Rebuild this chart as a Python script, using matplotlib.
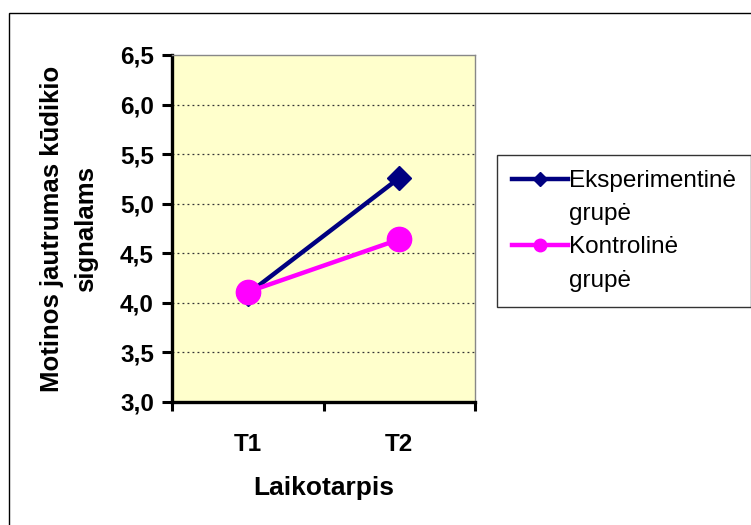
import matplotlib
matplotlib.use("Agg")
import matplotlib.pyplot as plt
from matplotlib.lines import Line2D
from matplotlib.patches import Rectangle

categories = ["T1", "T2"]
series_names = ["Eksperimentinė", "Kontrolinė"]
legend_second_line = "grupė"
eksperimentine = [4.09, 5.26]
kontroline = [4.11, 4.64]
y_ticks = [3.0, 3.5, 4.0, 4.5, 5.0, 5.5, 6.0, 6.5]
y_tick_labels = ["3,0", "3,5", "4,0", "4,5", "5,0", "5,5", "6,0", "6,5"]
x_label = "Laikotarpis"
y_label = "Motinos jautrumas kūdikio\nsignalams"

plt.rcParams['font.family'] = ['Liberation Sans', 'DejaVu Sans']

W, H = 751, 525
fig = plt.figure(figsize=(W / 100, H / 100), dpi=100)
fig.patch.set_facecolor("white")

# outer border (extends beyond right/bottom edges)
fig.patches.append(Rectangle((9 / W, -0.05), 1.2, 1 - 13 / H + 0.05,
                             transform=fig.transFigure, fill=False,
                             edgecolor="black", linewidth=1.0))

left, right, top, bottom = 172, 475, 55, 402
ax = fig.add_axes([left / W, 1 - bottom / H, (right - left) / W, (bottom - top) / H])
ax.set_facecolor("#FFFFCC")

x = list(range(len(categories)))
ax.plot(x, eksperimentine, color="#000080", linewidth=3.2, marker="D",
        markersize=12.5, zorder=3)
ax.plot(x, kontroline, color="#FF00FF", linewidth=3.2, marker="o",
        markersize=17.5, zorder=4)

ax.set_xlim(-0.5, len(categories) - 0.5)
ax.set_ylim(y_ticks[0], y_ticks[-1])
ax.set_yticks(y_ticks)
ax.set_yticklabels(y_tick_labels, fontsize=17.5, fontweight="bold")
ax.set_xticks(x)
ax.set_xticklabels(categories, fontsize=17.5, fontweight="bold")
ax.set_xticks([-0.5, 0.5, 1.5], minor=True)
ax.tick_params(axis="x", which="major", length=0, pad=22)
ax.tick_params(axis="x", which="minor", length=6.5, width=2.2, direction="out")
ax.tick_params(axis="y", which="major", length=7, width=2.2, direction="out", pad=6)

for yv in y_ticks[1:-1]:
    ax.axhline(yv, color="#333333", linewidth=0.9, linestyle=(0, (1.5, 2.5)), zorder=1)

for s in ["left", "bottom"]:
    ax.spines[s].set_linewidth(2.4)
    ax.spines[s].set_color("black")
for s in ["top", "right"]:
    ax.spines[s].set_linewidth(1.0)
    ax.spines[s].set_color("#888888")

ax.set_xlabel(x_label, fontsize=19, fontweight="bold")
ax.xaxis.set_label_coords(0.5, -(488 - bottom) / (bottom - top))
ax.xaxis.label.set_va("center")
ax.set_ylabel(y_label, fontsize=18.5, fontweight="bold", ha="center", va="center",
              multialignment="center", linespacing=1.5)
ax.yaxis.set_label_coords((69 - left) / (right - left), 0.5)

blank = Line2D([], [], linestyle="none")
h1 = Line2D([], [], color="#000080", linewidth=3.2, marker="D", markersize=7)
h2 = Line2D([], [], color="#FF00FF", linewidth=3.2, marker="o", markersize=9)
leg = fig.legend([h1, blank, h2, blank],
                 [series_names[0], legend_second_line, series_names[1], legend_second_line],
                 loc="upper left", bbox_to_anchor=(497 / W, 1 - 155 / H),
                 fontsize=17.5, frameon=True, fancybox=False, shadow=False,
                 handlelength=2.3, handletextpad=0.05, labelspacing=0.46,
                 borderpad=0.62, borderaxespad=0)
leg.get_frame().set_edgecolor("black")
leg.get_frame().set_linewidth(1.0)

fig.savefig("out.png", dpi=100)
